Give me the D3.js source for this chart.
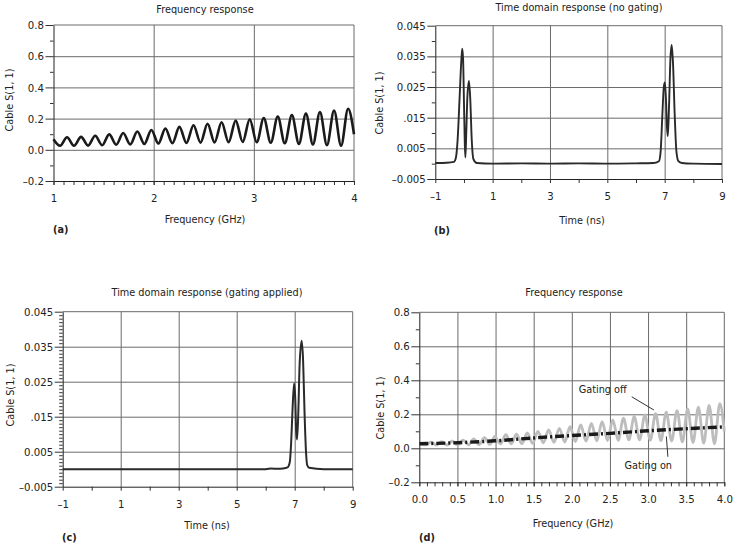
<!DOCTYPE html>
<html lang="en">
<head>
    <meta charset="UTF-8">
    <title>Cable S(1,1) gating</title>
    <script src="https://d3js.org/d3.v7.min.js"></script>
    <style>
        body { margin: 0; background: #fff; }
        svg text { font-family: 'Liberation Sans Narrow', 'DejaVu Sans Condensed', 'Roboto Condensed', 'Liberation Sans', sans-serif; fill: #222; }
    </style>
</head>
<body>
    <svg></svg>
</body>

<script>

    // ---- data ----

    // (a) frequency response, GHz vs |S11|
    const freqA = [1.00, 1.065, 1.135, 1.205, 1.275, 1.345, 1.416, 1.486, 1.556, 1.626, 1.696,
        1.766, 1.837, 1.907, 1.977, 2.047, 2.117, 2.187, 2.257, 2.327, 2.398, 2.468, 2.538,
        2.608, 2.678, 2.748, 2.819, 2.889, 2.959, 3.029, 3.099, 3.169, 3.239, 3.309, 3.380,
        3.450, 3.520, 3.590, 3.660, 3.730, 3.801, 3.871, 3.941, 4.00];
    const s11A = [0.068, 0.026, 0.080, 0.026, 0.083, 0.027, 0.090, 0.029, 0.099, 0.032, 0.108,
        0.035, 0.117, 0.037, 0.127, 0.040, 0.137, 0.042, 0.147, 0.044, 0.157, 0.046, 0.167,
        0.047, 0.177, 0.049, 0.187, 0.050, 0.196, 0.048, 0.204, 0.045, 0.213, 0.042, 0.222,
        0.038, 0.232, 0.034, 0.242, 0.030, 0.252, 0.026, 0.263, 0.100];

    // (d) low-frequency part of the ungated response (0 - 1 GHz)
    const freqLow = [0.000, 0.082, 0.153, 0.223, 0.293, 0.363, 0.433, 0.503, 0.574, 0.644,
        0.714, 0.784, 0.854, 0.924, 0.995];
    const s11Low = [0.030, 0.020, 0.036, 0.019, 0.039, 0.019, 0.043, 0.019, 0.048, 0.020,
        0.055, 0.021, 0.063, 0.023, 0.072];

    // (d) gated response
    const freqOn = [0, 0.5, 1.0, 1.5, 2.0, 2.5, 3.0, 3.5, 4.0];
    const s11On = [0.027, 0.033, 0.044, 0.061, 0.075, 0.088, 0.103, 0.115, 0.126];

    // (b) time domain, no gating
    const timeB = [-1, -0.6, -0.35, -0.28, -0.22, -0.15, -0.09, -0.06, -0.03, 0.0, 0.03, 0.05,
        0.08, 0.12, 0.175, 0.22, 0.27, 0.33, 0.45, 1, 2, 3, 4, 5, 6, 6.6, 6.8, 6.86, 6.92,
        6.97, 7.01, 7.05, 7.08, 7.11, 7.15, 7.2, 7.245, 7.29, 7.35, 7.41, 7.48, 7.6, 8, 9];
    const s11B = [0.0002, 0.0003, 0.0006, 0.002, 0.008, 0.022, 0.034, 0.0375, 0.034, 0.02,
        0.006, 0.002, 0.01, 0.022, 0.027, 0.021, 0.008, 0.0015, 0.0002, 0.0, 0.0001, 0.0,
        0.0001, 0.0, 0.0001, 0.0002, 0.0008, 0.004, 0.016, 0.025, 0.0265, 0.02, 0.012, 0.009,
        0.018, 0.034, 0.0387, 0.033, 0.016, 0.004, 0.0008, 0.0002, 0.0, -0.0001];

    // (c) time domain, gating applied
    const timeC = [-1, 6.0, 6.2, 6.4, 6.6, 6.75, 6.83, 6.88, 6.93, 6.98, 7.02, 7.05, 7.08,
        7.12, 7.17, 7.24, 7.29, 7.34, 7.39, 7.43, 7.5, 8, 9];
    const s11C = [0.0, 0.0, 0.0002, 0.0001, 0.0002, 0.0005, 0.002, 0.008, 0.018, 0.0245,
        0.02, 0.011, 0.0085, 0.015, 0.03, 0.0367, 0.031, 0.016, 0.005, 0.0012, 0.0004, 0.0, 0.0];

    // tick labels
    const freqTicksA = [1, 2, 3, 4];
    const freqTicksD = [0, 0.5, 1.0, 1.5, 2.0, 2.5, 3.0, 3.5, 4.0];
    const freqLabelsD = ["0.0", "0.5", "1.0", "1.5", "2.0", "2.5", "3.0", "3.5", "4.0"];
    const s11Ticks = [0.8, 0.6, 0.4, 0.2, 0.0, -0.2];
    const s11Labels = ["0.8", "0.6", "0.4", "0.2", "0.0", "\u20130.2"];
    const timeTicks = [-1, 1, 3, 5, 7, 9];
    const timeLabels = ["\u20131", "1", "3", "5", "7", "9"];
    const tdTicks = [0.045, 0.035, 0.025, 0.015, 0.005, -0.005];
    const tdLabels = ["0.045", "0.035", "0.025", ".015", "0.005", "\u20130.005"];

    const svg = d3.select("svg").attr("width", 733).attr("height", 551);
    const fs = 10.8;      // titles, axis names
    const fsTick = 11.3;  // tick labels
    const gridColor = "#6a6a6a";

    function panel(p) {
        const x = d3.scaleLinear().domain(p.xDomain).range([p.left, p.right]);
        const y = d3.scaleLinear().domain(p.yDomain).range([p.bottom, p.top]);
        const g = svg.append("g");

        // grid lines
        g.append("g")
            .attr("transform", `translate(0,${p.bottom})`)
            .call(d3.axisBottom(x).tickValues(p.xGrid).tickSize(-(p.bottom - p.top)).tickFormat(""))
            .call(a => a.select(".domain").remove())
            .call(a => a.selectAll("line").attr("stroke", gridColor));
        g.append("g")
            .attr("transform", `translate(${p.left},0)`)
            .call(d3.axisLeft(y).tickValues(p.yGrid).tickSize(-(p.right - p.left)).tickFormat(""))
            .call(a => a.select(".domain").remove())
            .call(a => a.selectAll("line").attr("stroke", gridColor));

        // frame top/right
        g.append("path")
            .attr("d", `M${p.left},${p.top}H${p.right}V${p.bottom}`)
            .attr("fill", "none").attr("stroke", gridColor);

        // minor ticks
        g.append("g")
            .attr("transform", `translate(0,${p.bottom})`)
            .call(d3.axisBottom(x).tickValues(p.xMinor).tickSize(4).tickFormat(""))
            .call(a => a.select(".domain").remove())
            .call(a => a.selectAll("line").attr("stroke", "#333"));
        g.append("g")
            .attr("transform", `translate(${p.left},0)`)
            .call(d3.axisLeft(y).tickValues(p.yMinor).tickSize(3.5).tickFormat(""))
            .call(a => a.select(".domain").remove())
            .call(a => a.selectAll("line").attr("stroke", "#333"));

        // major axes with labels
        g.append("g")
            .attr("transform", `translate(0,${p.bottom})`)
            .call(d3.axisBottom(x).tickValues(p.xTicks).tickSize(4).tickSizeOuter(0).tickPadding(9)
                .tickFormat((d, i) => p.xLabels[i]))
            .call(a => a.selectAll("line").attr("stroke", "#333"))
            .call(a => a.select(".domain").attr("stroke", "#222"))
            .call(a => a.selectAll("text").attr("font-size", fsTick).attr("font-family", null));
        g.append("g")
            .attr("transform", `translate(${p.left},0)`)
            .call(d3.axisLeft(y).tickValues(p.yTicks).tickSize(8).tickSizeOuter(0).tickPadding(1.5)
                .tickFormat((d, i) => p.yLabels[i]))
            .call(a => a.selectAll("line").attr("stroke", "#333"))
            .call(a => a.select(".domain").attr("stroke", "#222"))
            .call(a => a.selectAll("text").attr("font-size", fsTick).attr("font-family", null));

        // series
        p.series.forEach(s => {
            const pts = s.xs.map((v, i) => [v, s.ys[i]]);
            g.append("path")
                .datum(pts)
                .attr("fill", "none")
                .attr("stroke", s.color)
                .attr("stroke-width", s.width)
                .attr("stroke-dasharray", s.dash || null)
                .attr("stroke-linejoin", "round")
                .attr("d", d3.line().x(d => x(d[0])).y(d => y(d[1])).curve(d3.curveMonotoneX));
        });

        // texts
        g.append("text").attr("x", p.title[1]).attr("y", p.title[2] + 4)
            .attr("text-anchor", "middle").attr("font-size", fs).text(p.title[0]);
        g.append("text").attr("x", p.xLabel[1]).attr("y", p.xLabel[2] + 4)
            .attr("text-anchor", "middle").attr("font-size", fs).text(p.xLabel[0]);
        g.append("text")
            .attr("transform", `translate(${p.yLabel[1] + 4},${p.yLabel[2]}) rotate(-90)`)
            .attr("text-anchor", "middle").attr("font-size", fs).text(p.yLabel[0]);
        g.append("text").attr("x", p.tag[1]).attr("y", p.tag[2] + 4)
            .attr("font-size", fs).attr("font-weight", "bold").text(p.tag[0]);

        return { x, y, g };
    }

    const freqMinorA = d3.range(10, 41).map(d => d / 10);
    const freqMinorD = d3.range(0, 41).map(d => d / 10);
    const s11Minor = [0.7, 0.5, 0.3, 0.1, -0.1];

    // (a)
    panel({
        left: 53.5, right: 354, top: 25, bottom: 181,
        xDomain: [1, 4], yDomain: [-0.2, 0.8],
        xGrid: [2, 3], yGrid: [0.6, 0.4, 0.2, 0.0],
        xTicks: freqTicksA, xLabels: freqTicksA.map(String), xMinor: freqMinorA,
        yTicks: s11Ticks, yLabels: s11Labels, yMinor: s11Minor,
        series: [{ xs: freqA, ys: s11A, color: "#1a1a1a", width: 2.6 }],
        title: ["Frequency response", 205, 9],
        xLabel: ["Frequency (GHz)", 205, 219],
        yLabel: ["Cable S(1, 1)", 9, 100],
        tag: ["(a)", 53, 229]
    });

    // (b)
    panel({
        left: 435.3, right: 722, top: 25.7, bottom: 179,
        xDomain: [-1, 9], yDomain: [-0.005, 0.045],
        xGrid: [1, 3, 5, 7], yGrid: [0.035, 0.025, 0.015, 0.005],
        xTicks: timeTicks, xLabels: timeLabels, xMinor: [0, 2, 4, 6, 8],
        yTicks: tdTicks, yLabels: tdLabels, yMinor: [0.04, 0.03, 0.02, 0.01, 0.0],
        series: [{ xs: timeB, ys: s11B, color: "#2a2a2a", width: 1.9 }],
        title: ["Time domain response (no gating)", 579, 7],
        xLabel: ["Time (ns)", 582, 220],
        yLabel: ["Cable S(1, 1)", 379, 103],
        tag: ["(b)", 434, 230]
    });

    // (c)
    panel({
        left: 62.7, right: 352.7, top: 311.7, bottom: 486.7,
        xDomain: [-1, 9], yDomain: [-0.005, 0.045],
        xGrid: [1, 3, 5, 7], yGrid: [0.035, 0.025, 0.015, 0.005],
        xTicks: timeTicks, xLabels: timeLabels, xMinor: [0, 2, 4, 6, 8],
        yTicks: tdTicks, yLabels: tdLabels,
        yMinor: d3.range(-5, 46).filter(d => (d + 5) % 10 !== 0).map(d => d / 1000),
        series: [{ xs: timeC, ys: s11C, color: "#2a2a2a", width: 2 }],
        title: ["Time domain response (gating applied)", 207, 292],
        xLabel: ["Time (ns)", 207, 525],
        yLabel: ["Cable S(1, 1)", 9.5, 395],
        tag: ["(c)", 62, 537]
    });

    // (d)
    const d = panel({
        left: 419.3, right: 724.3, top: 312.3, bottom: 482.3,
        xDomain: [0, 4], yDomain: [-0.2, 0.8],
        xGrid: [0.5, 1.0, 1.5, 2.0, 2.5, 3.0, 3.5], yGrid: [0.6, 0.4, 0.2, 0.0],
        xTicks: freqTicksD, xLabels: freqLabelsD, xMinor: freqMinorD,
        yTicks: s11Ticks, yLabels: s11Labels, yMinor: s11Minor,
        series: [
            { xs: freqLow.concat(freqA), ys: s11Low.concat(s11A), color: "#bdbdbd", width: 2.8 },
            { xs: freqOn, ys: s11On, color: "#1a1a1a", width: 3.4, dash: "9,3,2,3" }
        ],
        title: ["Frequency response", 574, 292],
        xLabel: ["Frequency (GHz)", 573, 523],
        yLabel: ["Cable S(1, 1)", 380, 408],
        tag: ["(d)", 419, 537]
    });

    // annotations in (d)
    d.g.append("line")
        .attr("x1", d.x(2.786)).attr("y1", d.y(0.303))
        .attr("x2", d.x(3.078)).attr("y2", d.y(0.225))
        .attr("stroke", "#333").attr("stroke-width", 1);
    d.g.append("text").attr("x", d.x(2.405)).attr("y", d.y(0.347) + 4)
        .attr("text-anchor", "middle").attr("font-size", fs).text("Gating off");
    d.g.append("line")
        .attr("x1", d.x(3.24)).attr("y1", d.y(0.07))
        .attr("x2", d.x(3.26)).attr("y2", d.y(-0.05))
        .attr("stroke", "#333").attr("stroke-width", 1);
    d.g.append("text").attr("x", d.x(3.003)).attr("y", d.y(-0.098) + 4)
        .attr("text-anchor", "middle").attr("font-size", fs).text("Gating on");

</script>
</html>
